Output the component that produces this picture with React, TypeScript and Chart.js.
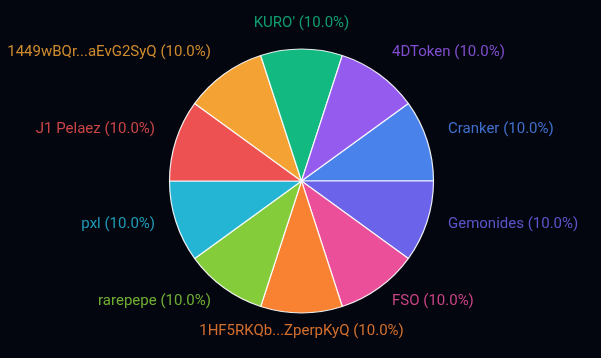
import React, { useEffect, useRef } from "react";
import { Chart, registerables } from "chart.js";

Chart.register(...registerables);

const labels = [
  "Cranker",
  "Gemonides",
  "FSO",
  "1HF5RKQb...ZperpKyQ",
  "rarepepe",
  "pxl",
  "J1 Pelaez",
  "1449wBQr...aEvG2SyQ",
  "KURO'",
  "4DToken",
];
const values = [10, 10, 10, 10, 10, 10, 10, 10, 10, 10];
const colors = [
  "#4a82ec",
  "#6b63ea",
  "#ec4f9a",
  "#f88132",
  "#84cc3a",
  "#24b4d4",
  "#ee5151",
  "#f3a233",
  "#12b981",
  "#955bef",
];

const outsideLabels = {
  id: "outsideLabels",
  afterDatasetsDraw(chart: any) {
    const ctx = chart.ctx;
    const meta = chart.getDatasetMeta(0);
    const data = chart.data.datasets[0].data as number[];
    const total = data.reduce((a, b) => a + b, 0);
    ctx.save();
    ctx.font = "15px Roboto, 'Liberation Sans', sans-serif";
    ctx.textBaseline = "middle";
    ctx.globalAlpha = 0.85;
    meta.data.forEach((arc: any, i: number) => {
      const { x, y, startAngle, endAngle, outerRadius } = arc.getProps(
        ["x", "y", "startAngle", "endAngle", "outerRadius"],
        true
      );
      const mid = (startAngle + endAngle) / 2;
      const r = outerRadius + 22;
      const lx = x + Math.cos(mid) * r;
      const ly = y + Math.sin(mid) * r;
      const c = Math.cos(mid);
      ctx.textAlign = Math.abs(c) < 0.05 ? "center" : c > 0 ? "left" : "right";
      ctx.fillStyle = colors[i];
      const pct = ((data[i] / total) * 100).toFixed(1);
      ctx.fillText(`${chart.data.labels[i]} (${pct}%)`, lx, ly - 4);
    });
    ctx.restore();
  },
};

export default function App() {
  const ref = useRef<HTMLCanvasElement>(null);
  useEffect(() => {
    document.body.style.margin = "0";
    document.body.style.background = "#03060f";
    const chart = new Chart(ref.current!, {
      type: "pie",
      data: {
        labels,
        datasets: [
          {
            data: values,
            backgroundColor: colors,
            borderColor: "rgba(255,255,255,0.9)",
            borderWidth: 1.2,
          },
        ],
      },
      options: {
        animation: false,
        responsive: false,
        rotation: 54,
        radius: 132,
        layout: { padding: { top: 4, left: 2 } },
        plugins: {
          legend: { display: false },
          tooltip: { enabled: false },
        },
      },
      plugins: [outsideLabels],
    });
    return () => chart.destroy();
  }, []);
  return (
    <div style={{ width: 601, height: 358, background: "#03060f" }}>
      <canvas ref={ref} width={601} height={358} style={{ display: "block" }} />
    </div>
  );
}
